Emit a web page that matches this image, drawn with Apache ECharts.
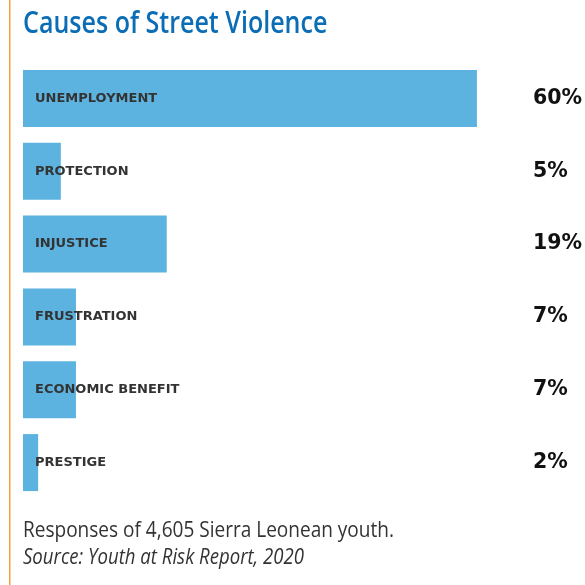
<!DOCTYPE html>
<html>
<head>
<meta charset="utf-8">
<style>
  html, body { margin: 0; padding: 0; background: #ffffff; }
  #chart { width: 585px; height: 585px; }
</style>
<script src="https://cdn.jsdelivr.net/npm/echarts@6/dist/echarts.min.js"></script>
</head>
<body>
<div id="chart"></div>
<script>
// Survey answers: share of respondents naming each cause
const categories = ['UNEMPLOYMENT', 'PROTECTION', 'INJUSTICE', 'FRUSTRATION', 'ECONOMIC BENEFIT', 'PRESTIGE'];
const shares = [60, 5, 19, 7, 7, 2];

const titleText = 'Causes of Street Violence';
const noteText = 'Responses of 4,605 Sierra Leonean youth.';
const sourceText = 'Source: Youth at Risk Report, 2020';

const chart = echarts.init(document.getElementById('chart'), null, { renderer: 'canvas' });

chart.setOption({
  animation: false,
  backgroundColor: '#ffffff',
  grid: { left: 23, right: 108, top: 62, bottom: 86, containLabel: false },
  xAxis: {
    type: 'value', min: 0, max: 60,
    show: false
  },
  yAxis: [
    {
      // category names drawn on top of the bars
      type: 'category', data: categories, inverse: true, z: 5,
      axisLine: { show: false }, axisTick: { show: false }, splitLine: { show: false },
      axisLabel: {
        inside: true, margin: 12,
        fontFamily: 'DejaVu Sans', fontWeight: 'bold', fontSize: 13, color: '#333333'
      }
    },
    {
      // percentage column on the right
      type: 'category', data: categories, inverse: true, position: 'right',
      axisLine: { show: false }, axisTick: { show: false }, splitLine: { show: false },
      axisLabel: {
        margin: 56, align: 'left',
        fontFamily: 'DejaVu Sans', fontWeight: 'bold', fontSize: 20.5, color: '#111111',
        formatter: (v, i) => shares[i] + '%'
      }
    }
  ],
  series: [{
    type: 'bar', data: shares, barWidth: 57,
    itemStyle: { color: '#5DB3E0' },
    z: 2
  }],
  graphic: [
    { type: 'rect', shape: { x: 9, y: 0, width: 1.5, height: 585 }, style: { fill: '#F5A03A' } },
    { type: 'text', x: 23, y: 9, scaleX: 0.835,
      style: { text: titleText, font: '600 30px "Open Sans"', fill: '#0B6DB6', verticalAlign: 'top' } },
    { type: 'text', x: 23, y: 520, scaleX: 0.865,
      style: { text: noteText, font: '22px "Open Sans"', fill: '#333333', verticalAlign: 'top' } },
    { type: 'text', x: 23, y: 547, scaleX: 0.845,
      style: { text: sourceText, font: 'italic 22px "Open Sans"', fill: '#333333', verticalAlign: 'top' } }
  ]
});
</script>
</body>
</html>
